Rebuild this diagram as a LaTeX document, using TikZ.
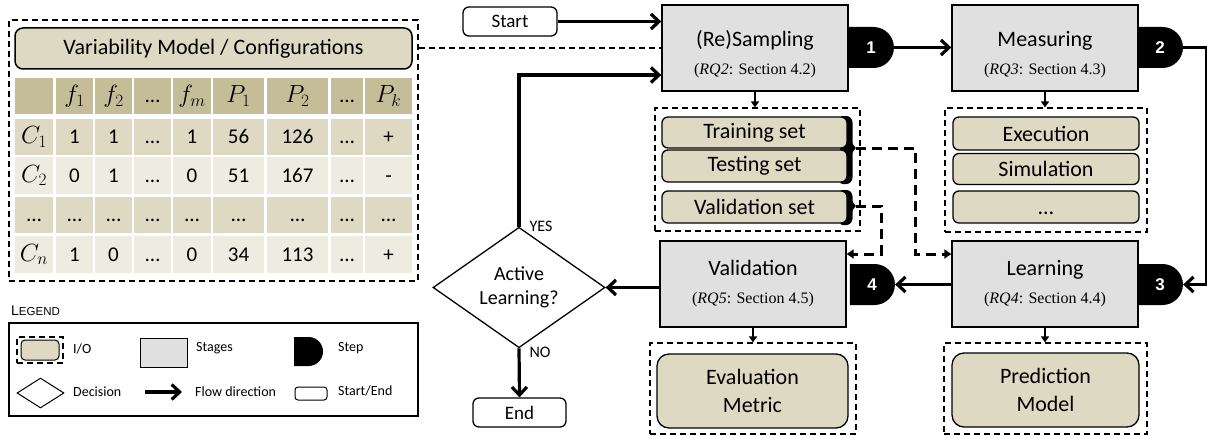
\documentclass[tikz,border=0pt]{standalone}
\usepackage{fontspec}
\setmainfont{Carlito}
\newfontfamily\tms{Liberation Serif}
\newfontfamily\arl{Liberation Sans}
\usetikzlibrary{shapes.geometric,shapes.misc,arrows.meta}
\definecolor{tanA}{HTML}{DDD9C3}
\definecolor{tanH}{HTML}{C4BD97}
\definecolor{tanL}{HTML}{EEECE1}
\definecolor{stg}{HTML}{E0E0E0}
\newcommand\rqlab[2]{{\tms\fontsize{16}{19}\selectfont(\textit{RQ#1}: Section #2)}}
\newcommand\mth[1]{{\fontsize{24}{26}\selectfont$#1$}}
\begin{document}
\begin{tikzpicture}[x=1pt,y=-1pt,
 stage/.style={draw, fill=stg, line width=1.4pt, minimum width=186pt, minimum height=86pt, inner sep=0pt, align=center, font=\fontsize{22}{28}\selectfont},
 stepd/.style={rounded rectangle, rounded rectangle left arc=none, fill=black, minimum width=45pt, minimum height=41pt, inner sep=0pt, text=white, font=\arl\bfseries\fontsize{17}{20}\selectfont},
 io/.style={draw, fill=tanA, rounded corners=6pt, line width=1.3pt, minimum width=185pt, minimum height=32pt, inner sep=0pt, font=\fontsize{22}{28}\selectfont, align=center},
 grp/.style={draw, line width=1.2pt, dash pattern=on 6pt off 4pt, inner sep=0pt},
 term/.style={draw, fill=white, rounded corners=6pt, line width=1.3pt, minimum width=94pt, minimum height=29pt, inner sep=0pt, font=\fontsize{19}{22}\selectfont},
 flow/.style={line width=3.2pt, -{Straight Barb[length=8pt,width=15pt]}},
 sflow/.style={line width=1.6pt, -{Triangle[length=6pt,width=8pt]}},
 dflow/.style={line width=3pt, dash pattern=on 10pt off 6pt, -{Triangle[length=7pt,width=9pt]}},
 cell/.style={fill=#1, inner sep=0pt, text height=13.5pt, text depth=0pt, font=\fontsize{21}{24}\selectfont},
 lt/.style={anchor=west, font=\fontsize{14}{17}\selectfont, inner sep=0pt},
]
\useasboundingbox (0,0) rectangle (1207,436);

% ---------- left panel ----------
\node[grp, minimum width=409pt, minimum height=261pt] (panel) at (213.5,150.5) {};
\node[draw, fill=tanA, rounded corners=8pt, line width=1.5pt, minimum width=397pt, minimum height=41pt, inner sep=0pt, font=\fontsize{22}{26}\selectfont] (hdr) at (213.5,48.5) {Variability Model / Configurations};

\foreach \x/\w/\t [count=\k] in {34/38/{}, 74.5/37/{\mth{f_1}}, 113.5/37/{\mth{f_2}}, 152.5/37/{…}, 192/38/{\mth{f_m}}, 238.5/51/{\mth{P_1}}, 297.5/61/{\mth{P_2}}, 347/32/{…}, 388.5/47/{\mth{P_k}}}
  \node[cell=tanH, minimum width=\w, minimum height=36] (th\k) at (\x,96) {\t};
\foreach \x/\w/\t [count=\k] in {34/38/{\mth{C_1}}, 74.5/37/1, 113.5/37/1, 152.5/37/{…}, 192/38/1, 238.5/51/56, 297.5/61/126, 347/32/{…}, 388.5/47/+}
  \node[cell=tanA, minimum width=\w, minimum height=36] (ta\k) at (\x,137) {\t};
\foreach \x/\w/\t [count=\k] in {34/38/{\mth{C_2}}, 74.5/37/0, 113.5/37/1, 152.5/37/{…}, 192/38/0, 238.5/51/51, 297.5/61/167, 347/32/{…}, 388.5/47/-}
  \node[cell=tanL, minimum width=\w, minimum height=37] (tb\k) at (\x,175.5) {\t};
\foreach \x/\w [count=\k] in {34/38, 74.5/37, 113.5/37, 152.5/37, 192/38, 238.5/51, 297.5/61, 347/32, 388.5/47}
  \node[cell=tanA, minimum width=\w, minimum height=36] (tc\k) at (\x,215) {…};
\foreach \x/\w/\t [count=\k] in {34/38/{\mth{C_n}}, 74.5/37/1, 113.5/37/0, 152.5/37/{…}, 192/38/0, 238.5/51/34, 297.5/61/113, 347/32/{…}, 388.5/47/+}
  \node[cell=tanL, minimum width=\w, minimum height=37] (td\k) at (\x,254.5) {\t};

% ---------- legend ----------
\node[anchor=west, inner sep=0pt] (leglab) at (11,311) {\arl\fontsize{14}{16}\selectfont L\fontsize{11.5}{13}\selectfont EGEND};
\node[draw, line width=1.3pt, minimum width=409pt, minimum height=93pt, inner sep=0pt] (legend) at (213.5,369.5) {};
\node[grp, minimum width=46pt, minimum height=26pt] (lio) at (40,350) {};
\node[draw, fill=tanA, rounded corners=4pt, line width=1pt, minimum width=38pt, minimum height=20pt, inner sep=0pt] (lioin) at (40,350) {};
\node[lt] (liot) at (73,349) {I/O};
\node[draw, fill=stg, line width=1pt, minimum width=47pt, minimum height=29pt, inner sep=0pt] (lstage) at (163.5,352.5) {};
\node[lt] (lstaget) at (196,348) {Stages};
\node[rounded rectangle, rounded rectangle left arc=none, fill=black, minimum width=25pt, minimum height=29pt, inner sep=0pt] (lstep) at (308.5,351.5) {};
\node[lt] (lstept) at (338,348) {Step};
\node[diamond, draw, line width=1pt, minimum width=47pt, minimum height=30pt, inner sep=0pt] (ldec) at (40.5,393) {};
\node[lt] (ldect) at (73,392) {Decision};
\coordinate (la1) at (145,392);
\coordinate (la2) at (182,392);
\draw[flow] (la1) -- (la2);
\node[lt] (lflowt) at (195,392) {Flow direction};
\node[draw, rounded corners=3pt, line width=1pt, minimum width=32pt, minimum height=13pt, inner sep=0pt] (lterm) at (311,393.5) {};
\node[lt] (ltermt) at (338,391) {Start/End};

% ---------- flow ----------
\node[term] (start) at (510,21.5) {Start};
\node[stage] (samp) at (755,48) {\rule{0pt}{29pt}(Re)Sampling\\\rqlab{2}{4.2}};
\node[stage] (meas) at (1045,48) {\rule{0pt}{29pt}Measuring\\\rqlab{3}{4.3}};
\node[stage] (learn) at (1045,284) {Learning\\\rqlab{4}{4.4}};
\node[stage] (valid) at (753,284) {Validation\\\rqlab{5}{4.5}};
\node[stepd] (s1) at (871,47.5) {1};
\node[stepd] (s2) at (1160,47.5) {2};
\node[stepd] (s3) at (1160,284.5) {3};
\node[stepd] (s4) at (872,284.5) {4};
\node[diamond, draw, line width=1.3pt, minimum width=172pt, minimum height=99pt, inner sep=0pt, align=center, font=\fontsize{20}{24}\selectfont] (dec) at (519,287.5) {Active\\Learning?};
\node[term, minimum width=93pt] (end) at (519.5,412.5) {End};

% output groups
\node[grp, minimum width=205pt, minimum height=123pt] (g1) at (757.5,169.5) {};
\node[grp, minimum width=202pt, minimum height=124pt] (g2) at (1046,170) {};
\node[grp, minimum width=206pt, minimum height=91pt] (g3) at (753,388.5) {};
\node[grp, minimum width=203pt, minimum height=91pt] (g4) at (1045.5,388.5) {};

% brace-like black marks on the right of the sets
\fill[rounded corners=2.5pt] (840,116) -- (849,116) -- (852.5,120) -- (852.5,145) -- (857,148) -- (852.5,151) -- (852.5,180) -- (849,184) -- (840,184) -- cycle;
\fill[rounded corners=2.5pt] (840,190) -- (849,190) -- (852.5,194) -- (852.5,203) -- (857,206) -- (852.5,209) -- (852.5,221) -- (849,225) -- (840,225) -- cycle;
\coordinate (br1) at (856,148);
\coordinate (br2) at (856,206);

\node[io, minimum height=31pt] (train) at (754.5,132.5) {Training set};
\node[io] (test) at (754.5,166) {Testing set};
\node[io] (vset) at (754.5,207) {Validation set};
\node[io, minimum width=186pt, minimum height=33pt] (exec) at (1046,133.5) {Execution};
\node[io, minimum width=186pt, minimum height=31pt] (simu) at (1046,169) {Simulation};
\node[io, minimum width=186pt] (etc) at (1046,207) {\vphantom{0}…};
\node[io, minimum width=191pt, minimum height=74pt, rounded corners=12pt] (evalm) at (752.5,391) {Evaluation\\Metric};
\node[io, minimum width=187pt, minimum height=74pt, rounded corners=12pt] (pred) at (1045.5,390) {Prediction\\Model};

% connectors
\draw[line width=1.2pt, dash pattern=on 6pt off 4pt] (panel.east |- samp.west) -- (samp.west);
\draw[flow] (start.east) -- (start.east -| samp.west);
\draw[flow] (s1.east) -- (s1.east -| meas.west);
\draw[flow] (s2.east) -- ++(23,0) |- (s3.east);
\draw[flow] (learn.west |- s4.east) -- (s4.east);
\draw[flow] (valid.west |- dec.east) -- (dec.east);
\draw[flow] (dec.north) |- ([yshift=-27pt]samp.west);
\draw[flow] (dec.south) -- (end.north);
\node[font=\fontsize{16}{19}\selectfont, inner sep=0pt] (yes) at (541,226) {YES};
\node[font=\fontsize{16}{19}\selectfont, inner sep=0pt] (no) at (540,352) {NO};

\draw[sflow] (samp.south) -- (samp.south |- g1.north);
\draw[sflow] (meas.south) -- (meas.south |- g2.north);
\draw[sflow] (valid.south) -- (valid.south |- g3.north);
\draw[sflow] (learn.south) -- (learn.south |- g4.north);

\draw[dflow] (br1) -- ++(59,0) |- ([yshift=30pt]learn.west);
\draw[dflow] (br2) -- ++(25,0) |- ([yshift=30pt]valid.east);
\end{tikzpicture}
\end{document}
